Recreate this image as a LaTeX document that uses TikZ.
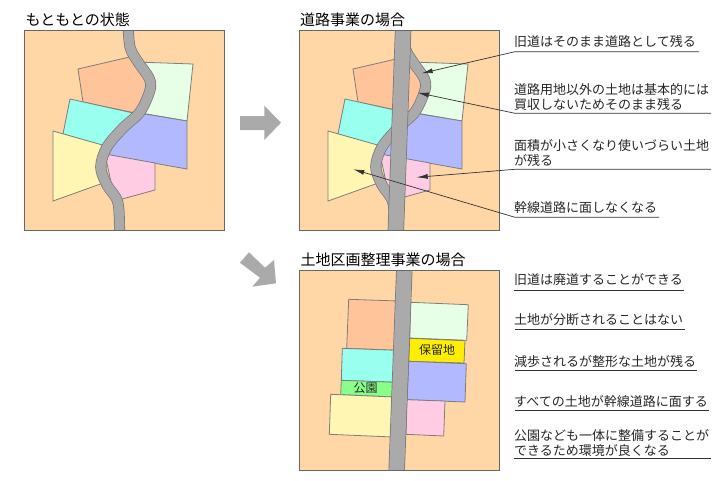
\documentclass[tikz,border=0pt]{standalone}
\usepackage{fontspec}
\setmainfont{Noto Sans CJK JP}
\usepackage{xcolor}
\usetikzlibrary{arrows.meta}
\definecolor{sitepeach}{HTML}{FFD7A6}
\definecolor{lotorange}{HTML}{FFC499}
\definecolor{lotmint}{HTML}{E6FFE6}
\definecolor{lotcyan}{HTML}{99FFEE}
\definecolor{lotblue}{HTML}{B3B9FF}
\definecolor{lotlemon}{HTML}{FFF6B3}
\definecolor{lotpink}{HTML}{FFCCE3}
\definecolor{lotyellow}{HTML}{FFEE00}
\definecolor{lotpark}{HTML}{88FF88}
\definecolor{roadgray}{HTML}{AAAAAA}
\definecolor{edgegray}{HTML}{666666}
\tikzset{
  site/.style={fill=sitepeach,draw=edgegray,line width=0.9pt},
  lot/.style={draw=edgegray!85,line width=0.8pt},
  road/.style={draw=edgegray!90,line width=0.7pt,double=roadgray,double distance=#1},
  title/.style={anchor=base west,font=\fontsize{15}{15}\selectfont,inner sep=0pt},
  note/.style={anchor=base west,font=\fontsize{13}{15}\selectfont,inner sep=0pt,align=left,text=black!85},
  tag/.style={font=\fontsize{12}{12}\selectfont,inner sep=0pt,text=black!85},
  callout/.style={-{Latex[length=11pt,width=5pt]},line width=0.7pt,black!80},
  rule/.style={line width=0.7pt,black!80},
  bigarrow/.style={fill=roadgray},
}
\newcommand{\oldlots}{
  \draw[lot,fill=lotorange] (78,69) -- (134,56) -- (150,85) -- (135,113) -- (83,102) -- cycle;
  \draw[lot,fill=lotmint] (136,62) -- (193,64) -- (187,121) -- (135,112) -- (150,85) -- cycle;
  \draw[lot,fill=lotcyan] (70,99) -- (133,113) -- (103,146) -- (63,134) -- cycle;
  \draw[lot,fill=lotblue] (133,112) -- (187,121) -- (187,169) -- (103,154) -- cycle;
  \draw[lot,fill=lotpink] (105,154) -- (155,163) -- (155,190) -- (115,201) -- cycle;
  \draw[lot,fill=lotlemon] (53,131) -- (106,146) -- (106,182) -- (53,201) -- cycle;
}
\newcommand{\oldroad}{
  \draw[road=9.6pt] plot[smooth,tension=0.55] coordinates
    {(128,22) (130,47) (138,62) (149,78) (150,90) (140,112) (123,128) (107,147)
     (100.7,167) (107,185) (118,203) (119.5,238)};
}

\begin{document}
\begin{tikzpicture}[x=1pt,y=-1pt,>=Latex]
  \useasboundingbox (0,0) rectangle (720,480);
  % before
  \node[title] (titleold) at (25.5,25.5) {もともとの状態};
  \draw[site] (24.5,30.5) rectangle (224.5,230.5);
  \oldlots
  \begin{scope}
    \clip (24.5,30.5) rectangle (224.5,230.5);
    \oldroad
  \end{scope}
  \draw[edgegray,line width=0.9pt] (24.5,30.5) rectangle (224.5,230.5);
  % block arrows
  \fill[bigarrow] (240,116) -- (264.3,116) -- (264.3,105.7) -- (281,122.7)
    -- (264.3,140) -- (264.3,130) -- (240,130) -- cycle;
  \fill[bigarrow] (249,252.3) -- (265,267.7) -- (274,260) -- (276,283.3)
    -- (252.3,286.7) -- (260,277.7) -- (240,262.7) -- cycle;
  % road project
  \node[title] (titleroad) at (300,25.5) {道路事業の場合};
  \begin{scope}[xshift=275pt]
    \draw[site] (24.5,30.5) rectangle (224.5,230.5);
    \oldlots
    \begin{scope}
      \clip (24.5,30.5) rectangle (224.5,230.5);
      \oldroad
      \draw[road=15pt] (128.5,20) -- (120.5,240);
    \end{scope}
    \draw[edgegray,line width=0.9pt] (24.5,30.5) rectangle (224.5,230.5);
  \end{scope}
  \node[note] (noteroada) at (514,46) {旧道はそのまま道路として残る};
  \node[note] (noteroadb) at (514,109) {道路用地以外の土地は基本的には\\買収しないためそのまま残る};
  \node[note] (noteroadc) at (514,165) {面積が小さくなり使いづらい土地\\が残る};
  \node[note] (noteroadd) at (514,212) {幹線道路に面しなくなる};
  \coordinate (tipa) at (421.7,73.3);
  \coordinate (elba) at (515,51.7);
  \coordinate (enda) at (699,51.7);
  \coordinate (tipb) at (417.7,92.7);
  \coordinate (elbb) at (515,113.3);
  \coordinate (endb) at (711,113.3);
  \coordinate (tipc) at (416.7,177.3);
  \coordinate (elbc) at (515,169.3);
  \coordinate (endc) at (711,169.3);
  \coordinate (tipd) at (353.3,169.3);
  \coordinate (elbd) at (515,217.3);
  \coordinate (endd) at (659,217.3);
  \draw[callout] (enda) -- (elba) -- (tipa);
  \draw[callout] (endb) -- (elbb) -- (tipb);
  \draw[callout] (endc) -- (elbc) -- (tipc);
  \draw[callout] (endd) -- (elbd) -- (tipd);
  % readjustment project
  \node[title] (titleland) at (300.5,265) {土地区画整理事業の場合};
  \draw[site] (299.5,270.5) rectangle (499.5,470.5);
  \draw[lot,fill=lotorange] (348.7,299.3) -- (398,301) -- (396,350.3) -- (346.7,348.3) -- cycle;
  \draw[lot,fill=lotmint] (410.7,302.3) -- (468.3,304.7) -- (466.7,340.3) -- (409.7,338) -- cycle;
  \draw[lot,fill=lotyellow] (409.7,338.3) -- (465,340.7) -- (464,363) -- (408.7,361.3) -- cycle;
  \draw[lot,fill=lotblue] (408.7,361.3) -- (466.3,363.7) -- (465,402) -- (407,399.7) -- cycle;
  \draw[lot,fill=lotpink] (406.7,399.7) -- (445,401) -- (443.7,436) -- (406,434.3) -- cycle;
  \draw[lot,fill=lotcyan] (342.3,348.3) -- (396,350.3) -- (395,382.3) -- (341.3,380.3) -- cycle;
  \draw[lot,fill=lotpark] (341.3,380.3) -- (395,382.3) -- (394,397) -- (340.7,394.7) -- cycle;
  \draw[lot,fill=lotlemon] (330.7,394.3) -- (394,397) -- (393,437) -- (329.3,434.3) -- cycle;
  \node[tag] (tagreserve) at (437,350) {保留地};
  \node[tag] (tagpark) at (365.5,388) {公園};
  \begin{scope}
    \clip (299.5,270.5) rectangle (499.5,470.5);
    \draw[road=15pt] (404.7,260) -- (396.3,480);
  \end{scope}
  \draw[edgegray,line width=0.9pt] (299.5,270.5) rectangle (499.5,470.5);
  \node[note] (notelanda) at (514,284.5) {旧道は廃道することができる};
  \node[note] (notelandb) at (514,324.5) {土地が分断されることはない};
  \node[note] (notelandc) at (514,366) {減歩されるが整形な土地が残る};
  \node[note] (notelandd) at (514,406.5) {すべての土地が幹線道路に面する};
  \node[note] (notelande) at (514,455) {公園なども一体に整備することが\\できるため環境が良くなる};
  \coordinate (rulea) at (514,290);
  \coordinate (ruleaend) at (684,290);
  \coordinate (ruleb) at (515,329);
  \coordinate (rulebend) at (684.7,329);
  \coordinate (rulec) at (515,370.7);
  \coordinate (rulecend) at (697,370.7);
  \coordinate (ruled) at (515,410.7);
  \coordinate (ruledend) at (709,410.7);
  \coordinate (rulee) at (514,458.3);
  \coordinate (ruleeend) at (711,458.3);
  \draw[rule] (rulea) -- (ruleaend);
  \draw[rule] (ruleb) -- (rulebend);
  \draw[rule] (rulec) -- (rulecend);
  \draw[rule] (ruled) -- (ruledend);
  \draw[rule] (rulee) -- (ruleeend);
\end{tikzpicture}
\end{document}
